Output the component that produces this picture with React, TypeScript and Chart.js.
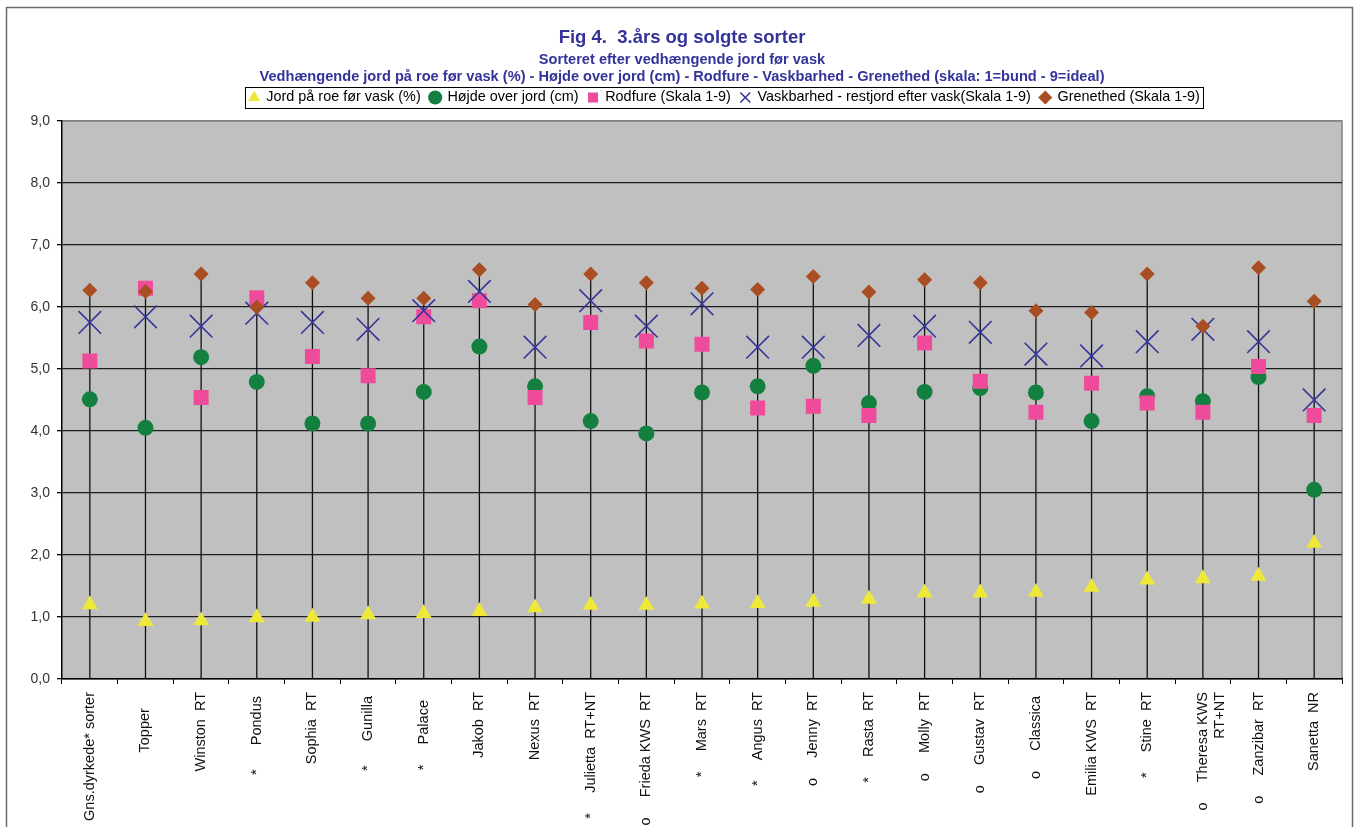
import React, { useEffect, useRef } from 'react';
import { Chart, registerables } from 'chart.js';

Chart.register(...registerables);

const FONT = "'Liberation Sans', Arial, Helvetica, sans-serif";

const categories: (string | string[])[] = [
  'Gns.dyrkede* sorter',
  'Topper    ',
  'Winston  RT',
  '*      Pondus ',
  'Sophia  RT',
  '*      Gunilla ',
  '*     Palace  ',
  'Jakob  RT',
  'Nexus  RT',
  '*     Julietta  RT+NT',
  'o     Frieda KWS  RT',
  '*     Mars  RT',
  '*     Angus  RT',
  'o     Jenny  RT',
  '*     Rasta  RT',
  'o     Molly  RT',
  'o     Gustav  RT',
  'o     Classica ',
  'Emilia KWS  RT',
  '*     Stine  RT',
  ['o     Theresa KWS', 'RT+NT'],
  'o     Zanzibar  RT',
  'Sanetta  NR',
];

const jordValues = [1.20, 0.93, 0.94, 0.99, 1.00, 1.04, 1.06, 1.09, 1.15, 1.19, 1.19, 1.21, 1.22, 1.24, 1.29, 1.39, 1.39, 1.40, 1.48, 1.60, 1.62, 1.66, 2.19];
const hojdeValues = [4.51, 4.05, 5.19, 4.79, 4.12, 4.12, 4.63, 5.36, 4.72, 4.16, 3.96, 4.62, 4.72, 5.05, 4.45, 4.63, 4.69, 4.62, 4.16, 4.56, 4.48, 4.87, 3.05];
const rodfureValues = [5.13, 6.30, 4.54, 6.15, 5.20, 4.89, 5.84, 6.10, 4.54, 5.75, 5.45, 5.40, 4.37, 4.40, 4.25, 5.42, 4.80, 4.30, 4.77, 4.45, 4.30, 5.04, 4.25];
const vaskValues = [5.75, 5.84, 5.69, 5.90, 5.75, 5.64, 5.94, 6.25, 5.35, 6.10, 5.69, 6.05, 5.35, 5.35, 5.54, 5.69, 5.59, 5.24, 5.21, 5.44, 5.64, 5.44, 4.50];
const grenValues = [6.27, 6.25, 6.53, 6.00, 6.39, 6.14, 6.14, 6.60, 6.04, 6.53, 6.39, 6.30, 6.28, 6.49, 6.24, 6.44, 6.39, 5.94, 5.91, 6.53, 5.69, 6.63, 6.09];

const seriesLabels = [
  'Jord på roe før vask (%)',
  'Højde over jord (cm)',
  'Rodfure (Skala 1-9)',
  'Vaskbarhed - restjord efter vask(Skala 1-9)',
  'Grenethed (Skala 1-9)',
];

const yTickLabels = ['0,0', '1,0', '2,0', '3,0', '4,0', '5,0', '6,0', '7,0', '8,0', '9,0'];

const titleText = 'Fig 4.  3.års og solgte sorter';
const subtitleText = [
  'Sorteret efter vedhængende jord før vask',
  'Vedhængende jord på roe før vask (%) - Højde over jord (cm) - Rodfure - Vaskbarhed - Grenethed (skala: 1=bund - 9=ideal)',
];

export default function App() {
  const ref = useRef<HTMLCanvasElement>(null);

  useEffect(() => {
    const canvas = ref.current;
    if (!canvas) return;

    const chartPlugin = {
      id: 'excelLook',
      beforeDraw(chart: any) {
        const { ctx, width, height, chartArea: a } = chart;
        ctx.save();
        ctx.fillStyle = '#ffffff';
        ctx.fillRect(0, 0, width, height);
        ctx.strokeStyle = '#6a6a6a';
        ctx.lineWidth = 1.5;
        ctx.strokeRect(6.5, 7.5, width - 8, height + 40);
        ctx.fillStyle = '#c0c0c0';
        ctx.fillRect(a.left, a.top, a.right - a.left, a.bottom - a.top);
        ctx.strokeStyle = '#808080';
        ctx.lineWidth = 1.5;
        ctx.strokeRect(a.left, a.top, a.right - a.left, a.bottom - a.top);
        ctx.restore();
      },
      afterLayout(chart: any) {
        const lg = chart.legend;
        if (lg) {
          const dx = 724.5 - (lg.left + lg.right) / 2;
          lg.left += dx;
          lg.right += dx;
          lg.top -= 6.25;
          lg.bottom -= 6.25;
        }
        (chart.boxes || []).forEach((b: any) => {
          if (b !== lg && b.options && b.options.text !== undefined && b.position === 'top') {
            const dx = 682 - (b.left + b.right) / 2;
            b.left += dx;
            b.right += dx;
          }
        });
      },
      beforeDatasetsDraw(chart: any) {
        const { ctx } = chart;
        const xs = chart.scales.x;
        const ys = chart.scales.y;
        ctx.save();
        ctx.strokeStyle = '#111111';
        ctx.lineWidth = 1.3;
        categories.forEach((_, i) => {
          const max = Math.max(...chart.data.datasets.map((d: any) => d.data[i]));
          const x = xs.getPixelForValue(i);
          ctx.beginPath();
          ctx.moveTo(x, ys.getPixelForValue(0));
          ctx.lineTo(x, ys.getPixelForValue(max));
          ctx.stroke();
        });
        ctx.restore();
      },
      afterDraw(chart: any) {
        const lg = chart.legend;
        if (!lg || !lg.legendHitBoxes || !lg.legendHitBoxes.length) return;
        const hb = lg.legendHitBoxes;
        const left = Math.min(...hb.map((h: any) => h.left)) - 4;
        const right = Math.max(...hb.map((h: any) => h.left + h.width)) + 3;
        const top = hb[0].top - 3.5;
        const bottom = hb[0].top + hb[0].height + 3.5;
        const { ctx } = chart;
        ctx.save();
        ctx.strokeStyle = '#000000';
        ctx.lineWidth = 1;
        ctx.strokeRect(Math.round(left) + 0.5, Math.round(top) + 0.5, Math.round(right - left), Math.round(bottom - top));
        ctx.restore();
      },
    };

    const chart = new Chart(canvas, {
      type: 'line',
      data: {
        labels: categories,
        datasets: [
          {
            label: seriesLabels[0],
            data: jordValues,
            showLine: false,
            pointStyle: 'triangle',
            pointRadius: 9.3,
            backgroundColor: '#ede83a',
            borderColor: '#ede83a',
            borderWidth: 0,
            order: 4,
          },
          {
            label: seriesLabels[1],
            data: hojdeValues,
            showLine: false,
            pointStyle: 'circle',
            pointRadius: 8,
            backgroundColor: '#138040',
            borderColor: '#138040',
            borderWidth: 0,
            order: 3,
          },
          {
            label: seriesLabels[2],
            data: rodfureValues,
            showLine: false,
            pointStyle: 'rect',
            pointRadius: 10.6,
            backgroundColor: '#ee4c9b',
            borderColor: '#ee4c9b',
            borderWidth: 0,
            order: 2,
          },
          {
            label: seriesLabels[3],
            data: vaskValues,
            showLine: false,
            pointStyle: 'crossRot',
            pointRadius: 16,
            backgroundColor: 'rgba(0,0,0,0)',
            borderColor: '#35359a',
            borderWidth: 1.6,
            order: 1,
          },
          {
            label: seriesLabels[4],
            data: grenValues,
            showLine: false,
            pointStyle: 'rectRot',
            pointRadius: 7.5,
            backgroundColor: '#a84e22',
            borderColor: '#a84e22',
            borderWidth: 0,
            order: 0,
          },
        ] as any,
      },
      options: {
        responsive: false,
        devicePixelRatio: 1,
        animation: false,
        events: [],
        layout: { autoPadding: false, padding: { left: 0, right: 12, top: 0, bottom: 0 } },
        plugins: {
          tooltip: { enabled: false },
          title: {
            display: true,
            text: titleText,
            color: '#333399',
            font: { family: FONT, size: 18.5, weight: 'bold', lineHeight: 1.2 },
            padding: { top: 27, bottom: 0 },
          },
          subtitle: {
            display: true,
            text: subtitleText,
            color: '#333399',
            font: { family: FONT, size: 14.6, weight: 'bold', lineHeight: 17 / 14.6 },
            padding: { top: 1.8, bottom: 2 },
          },
          legend: {
            display: true,
            position: 'top',
            labels: {
              usePointStyle: true,
              boxWidth: 10,
              boxHeight: 10,
              padding: 9.5,
              color: '#000000',
              font: { family: FONT, size: 14.4 },
              sort: (a: any, b: any) => a.datasetIndex - b.datasetIndex,
            },
          },
        },
        scales: {
          x: {
            type: 'category',
            offset: true,
            grid: {
              display: true,
              drawOnChartArea: false,
              drawTicks: true,
              tickLength: 5,
              offset: true,
              color: '#000000',
            },
            border: { display: true, color: '#000000', width: 1.3 },
            ticks: {
              autoSkip: false,
              maxRotation: 90,
              minRotation: 90,
              padding: 8,
              color: '#111111',
              font: { family: FONT, size: 14.5 },
            },
            afterFit: (s: any) => {
              s.height = 148;
              s.paddingLeft = 0;
              s.paddingRight = 0;
            },
          },
          y: {
            min: 0,
            max: 9,
            grid: {
              display: true,
              drawTicks: true,
              tickLength: 5,
              color: (c: any) => (c.tick && c.tick.value === 9 ? '#808080' : '#1e1e1e'),
              tickColor: '#000000',
              lineWidth: 1.3,
            },
            border: { display: true, color: '#000000', width: 1.3 },
            ticks: {
              stepSize: 1,
              padding: 7,
              color: '#333333',
              font: { family: FONT, size: 14 },
              callback: (_v: any, i: number) => yTickLabels[i],
            },
            afterFit: (s: any) => {
              s.width = 62;
              s.paddingTop = 0;
              s.paddingBottom = 0;
            },
          },
        },
      } as any,
      plugins: [chartPlugin as any],
    });

    return () => {
      chart.destroy();
    };
  }, []);

  return (
    <div style={{ position: 'absolute', left: 0, top: 0, width: 1354, height: 827 }}>
      <canvas ref={ref} width={1354} height={827} style={{ display: 'block', width: 1354, height: 827 }} />
    </div>
  );
}
